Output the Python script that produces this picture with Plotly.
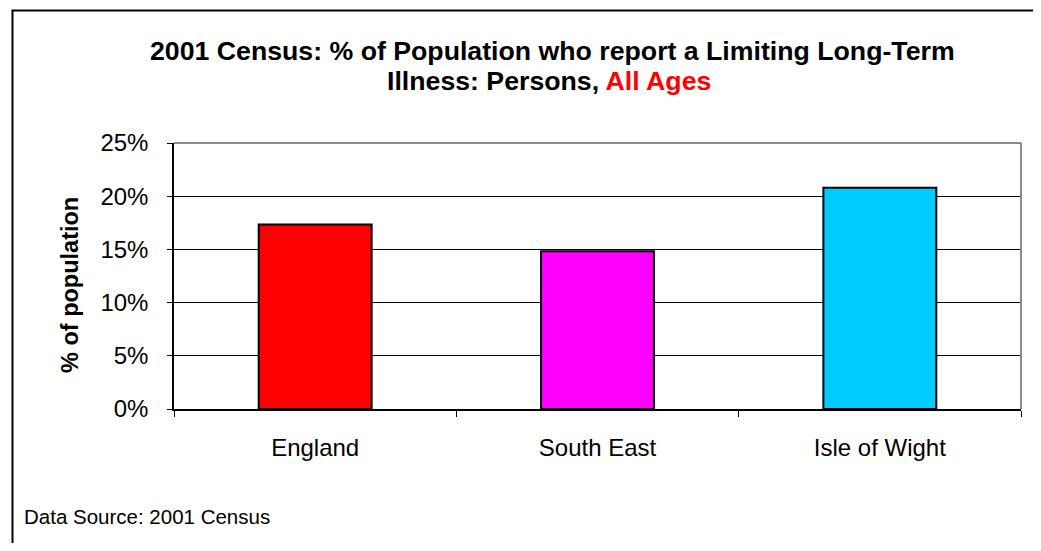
import plotly.graph_objects as go

categories = ["England", "South East", "Isle of Wight"]
values = [17.35, 14.83, 20.8]
colors = ["#FF0000", "#FF00FF", "#00CCFF"]
y_ticks = [0, 5, 10, 15, 20, 25]
y_tick_labels = ["0%", "5%", "10%", "15%", "20%", "25%"]

OFF = 8  # page body margin
W, H = 1041 - 2 * OFF, 551 - 2 * OFF
L = 174 - OFF
R = W - (1021 - OFF)
T = 143 - OFF
B = H - (409 - OFF)
pw = W - L - R
ph = H - T - B

def px(x):
    return (x - OFF - L) / pw

def py(y):
    return (H - B - (y - OFF)) / ph

FONT = "Liberation Sans, Arial, sans-serif"

fig = go.Figure()
fig.add_trace(go.Bar(
    x=categories, y=values,
    marker=dict(color=colors, line=dict(color="black", width=2)),
    width=0.4,
))

fig.update_layout(
    width=W, height=H,
    margin=dict(l=L, r=R, t=T, b=B),
    paper_bgcolor="white", plot_bgcolor="white",
    showlegend=False,
    font=dict(family=FONT, color="black"),
)
fig.update_xaxes(
    showline=True, linecolor="black", linewidth=1.5,
    ticks="outside", tickson="boundaries", ticklen=6, tickcolor="black",
    tickfont=dict(size=24, family=FONT, color="black"),
    ticklabelstandoff=16,
    showgrid=False,
)
fig.update_yaxes(
    range=[0, 25], tickvals=y_ticks, ticktext=y_tick_labels,
    showline=True, linecolor="black", linewidth=1.5,
    ticks="outside", ticklen=5, tickcolor="black",
    tickfont=dict(size=24, family=FONT, color="black"),
    ticklabelstandoff=14,
    showgrid=True, gridcolor="black", gridwidth=1,
    zeroline=False,
)

# plot-area top and right border (gray)
fig.add_shape(type="line", xref="paper", yref="paper", x0=0, x1=1, y0=1, y1=1,
              line=dict(color="#8C8C8C", width=2), layer="above")
fig.add_shape(type="line", xref="paper", yref="paper", x0=1, x1=1, y0=0, y1=1,
              line=dict(color="#8C8C8C", width=2), layer="above")

# figure border: only left and top edges fall inside the view
fig.add_shape(type="line", xref="paper", yref="paper",
              x0=px(12.5), x1=px(12.5), y0=py(560), y1=py(10.5),
              line=dict(color="black", width=2), layer="above")
fig.add_shape(type="line", xref="paper", yref="paper",
              x0=px(11.5), x1=px(1045), y0=py(10.5), y1=py(10.5),
              line=dict(color="black", width=2), layer="above")

fig.add_annotation(
    text="<b>2001 Census: % of Population who report a Limiting Long-Term</b>",
    xref="paper", yref="paper", x=px(552), y=py(51),
    xanchor="center", yanchor="middle", showarrow=False,
    font=dict(size=26.7, family=FONT, color="black"),
)
fig.add_annotation(
    text="<b>Illness: Persons, <span style='color:#FF0000'>All Ages</span></b>",
    xref="paper", yref="paper", x=px(549), y=py(81),
    xanchor="center", yanchor="middle", showarrow=False,
    font=dict(size=26.7, family=FONT, color="black"),
)
fig.add_annotation(
    text="<b>% of population</b>",
    xref="paper", yref="paper", x=px(70), y=py(285),
    xanchor="center", yanchor="middle", showarrow=False, textangle=-90,
    font=dict(size=23.5, family=FONT, color="black"),
)
fig.add_annotation(
    text="Data Source: 2001 Census",
    xref="paper", yref="paper", x=px(22), y=py(517),
    xanchor="left", yanchor="middle", showarrow=False,
    font=dict(size=20.5, family=FONT, color="black"),
)

fig.write_html("out.html")
